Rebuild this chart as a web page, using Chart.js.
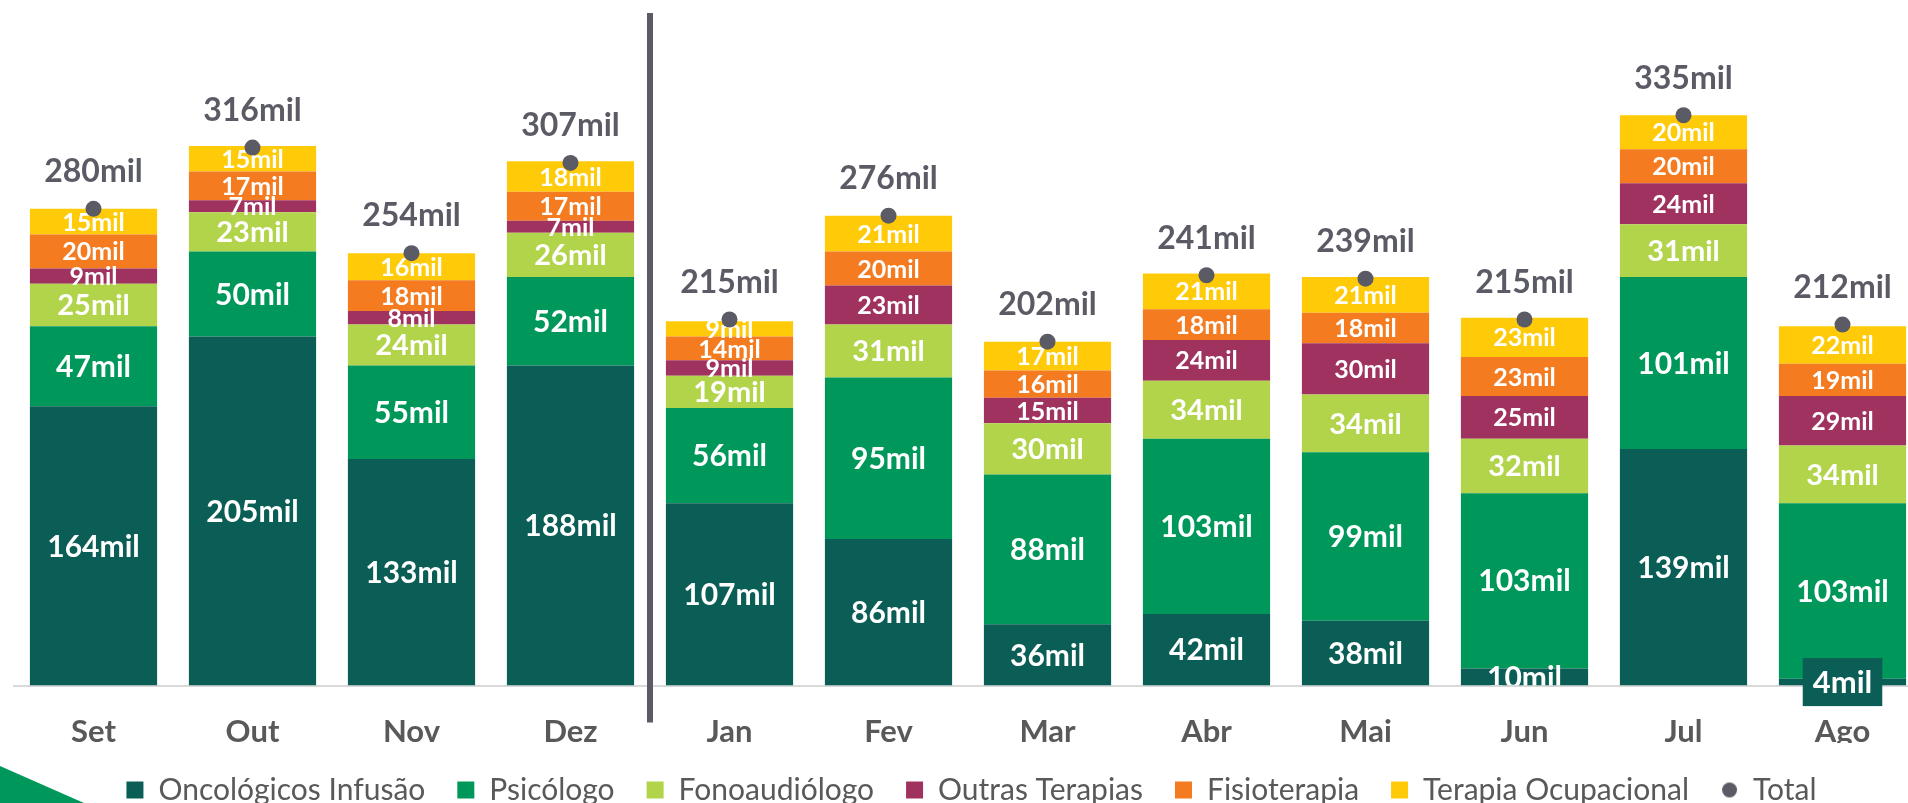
<!DOCTYPE html>
<html>
<head>
<meta charset="utf-8">
<script src="https://cdn.jsdelivr.net/npm/chart.js@4/dist/chart.umd.min.js"></script>
<style>
  html, body { margin: 0; padding: 0; background: #fff; overflow: hidden; }
  #wrap { position: relative; width: 1930px; height: 803px; }
  #chart { display: block; }
  #corner {
    position: absolute; left: 0; top: 766px; width: 84px; height: 37px;
    background: #00985A; clip-path: polygon(0 0, 100% 100%, 0 100%);
  }
</style>
</head>
<body>
<div id="wrap">
  <canvas id="chart" width="1930" height="803"></canvas>
  <div id="corner"></div>
</div>
<script>
// values in thousands ("mil")
const months = ['Set', 'Out', 'Nov', 'Dez', 'Jan', 'Fev', 'Mar', 'Abr', 'Mai', 'Jun', 'Jul', 'Ago'];
const oncologicos = [164, 205, 133, 188, 107, 86, 36, 42, 38, 10, 139, 4];
const psicologo = [47, 50, 55, 52, 56, 95, 88, 103, 99, 103, 101, 103];
const fonoaudiologo = [25, 23, 24, 26, 19, 31, 30, 34, 34, 32, 31, 34];
const outrasTerapias = [9, 7, 8, 7, 9, 23, 15, 24, 30, 25, 24, 29];
const fisioterapia = [20, 17, 18, 17, 14, 20, 16, 18, 18, 23, 20, 19];
const terapiaOcupacional = [15, 15, 16, 18, 9, 21, 17, 21, 21, 23, 20, 22];
const totals = [280, 316, 254, 307, 215, 276, 202, 241, 239, 215, 335, 212];

const FONT = 'Lato, "Open Sans", sans-serif';
const GRAY = '#595959';
const DOT = '#5b5b66';

// small circle used as the legend marker for "Total"
const dotIcon = document.createElement('canvas');
dotIcon.width = 17; dotIcon.height = 17;
(function () {
    const c = dotIcon.getContext('2d');
    c.fillStyle = DOT;
    c.beginPath();
    c.arc(8.5, 8.5, 7.5, 0, Math.PI * 2);
    c.fill();
})();

function barSet(label, data, color, fontSize) {
    return {
        type: 'bar',
        label: label,
        data: data,
        backgroundColor: color,
        borderWidth: 0,
        pointStyle: 'rect',
        order: 1,
        barPercentage: 0.8,
        categoryPercentage: 1,
        labelSize: fontSize
    };
}

// white value labels in the middle of each segment
function drawSegmentLabels(chart) {
    const ctx = chart.ctx;
    const area = chart.chartArea;
    const boxed = [];
    ctx.save();
    ctx.beginPath();
    ctx.rect(0, 0, chart.width, area.bottom);
    ctx.clip();
    ctx.textAlign = 'center';
    ctx.textBaseline = 'middle';
    chart.data.datasets.forEach((ds, i) => {
        if (ds.type !== 'bar') return;
        const meta = chart.getDatasetMeta(i);
        meta.data.forEach((bar, j) => {
            const v = ds.data[j];
            const cy = (bar.y + bar.base) / 2;
            if (i === 0 && v < 5) { boxed.push({x: bar.x, y: cy, v: v, color: ds.backgroundColor}); return; }
            ctx.font = 'bold ' + ds.labelSize + 'px ' + FONT;
            ctx.fillStyle = '#ffffff';
            ctx.fillText(v + 'mil', bar.x, cy + 1);
        });
    });
    ctx.restore();

    // tiny segments get their label on a filled box
    ctx.save();
    ctx.textAlign = 'center';
    ctx.textBaseline = 'middle';
    boxed.forEach(b => {
        ctx.font = 'bold 31px ' + FONT;
        const w = ctx.measureText(b.v + 'mil').width + 20;
        ctx.fillStyle = b.color;
        ctx.fillRect(b.x - w / 2, b.y - 24, w, 48);
        ctx.fillStyle = '#ffffff';
        ctx.fillText(b.v + 'mil', b.x, b.y + 1);
    });
    ctx.restore();
}

const labelPlugin = {
    id: 'labels',
    beforeDatasetDraw(chart, args) {
        if (args.meta.type === 'line') drawSegmentLabels(chart);
    },
    afterDatasetsDraw(chart) {
        const ctx = chart.ctx;
        const area = chart.chartArea;
        const xs = chart.scales.x;
        ctx.save();
        // totals above the dots
        const meta = chart.getDatasetMeta(6);
        ctx.font = 'bold 32px ' + FONT;
        ctx.fillStyle = DOT;
        ctx.textAlign = 'center';
        ctx.textBaseline = 'middle';
        meta.data.forEach((pt, j) => {
            ctx.fillText(totals[j] + 'mil', pt.x, pt.y - 37);
        });
        // separator between Dez and Jan
        const sx = (xs.getPixelForValue(3) + xs.getPixelForValue(4)) / 2;
        ctx.fillStyle = DOT;
        ctx.fillRect(sx - 3, area.top + 5, 6, area.bottom - area.top + 32);
        ctx.restore();
    }
};

const chart = new Chart(document.getElementById('chart'), {
    data: {
        labels: months,
        datasets: [
            barSet('Oncológicos Infusão', oncologicos, '#0B5E55', 30),
            barSet('Psicólogo', psicologo, '#00985A', 30),
            barSet('Fonoaudiólogo', fonoaudiologo, '#B2D44B', 29),
            barSet('Outras Terapias', outrasTerapias, '#A0325F', 25),
            barSet('Fisioterapia', fisioterapia, '#F47B20', 25),
            barSet('Terapia Ocupacional', terapiaOcupacional, '#FFCB08', 25),
            {
                type: 'line',
                label: 'Total',
                data: totals,
                showLine: false,
                order: 0,
                backgroundColor: DOT,
                borderColor: DOT,
                pointBackgroundColor: DOT,
                pointBorderWidth: 0,
                pointRadius: 8,
                pointHoverRadius: 8,
                pointStyle: 'circle',
                clip: false
            }
        ]
    },
    options: {
        responsive: false,
        animation: false,
        events: [],
        layout: { padding: { left: 14, right: 1, top: 0, bottom: -12 } },
        plugins: {
            tooltip: { enabled: false },
            legend: {
                position: 'bottom',
                labels: {
                    usePointStyle: true,
                    boxWidth: 17,
                    boxHeight: 17,
                    padding: 32,
                    color: GRAY,
                    font: { family: FONT, size: 30 },
                    sort: (a, b) => a.datasetIndex - b.datasetIndex,
                    generateLabels(c) {
                        // the legend marker for "Total" is the small dot icon
                        const items = Chart.defaults.plugins.legend.labels.generateLabels(c);
                        items.forEach(it => { if (it.datasetIndex === 6) it.pointStyle = dotIcon; });
                        return items;
                    }
                }
            }
        },
        scales: {
            x: {
                stacked: true,
                grid: { display: false, drawTicks: false },
                border: { display: true, color: '#d9d9d9', width: 2 },
                ticks: { color: GRAY, padding: 28, font: { family: FONT, size: 31, weight: 'bold' } },
                afterFit(scale) { scale.height -= 35.7; }
            },
            y: {
                stacked: true,
                display: false,
                min: 0,
                max: 398
            }
        }
    },
    plugins: [labelPlugin]
});
</script>
</body>
</html>
